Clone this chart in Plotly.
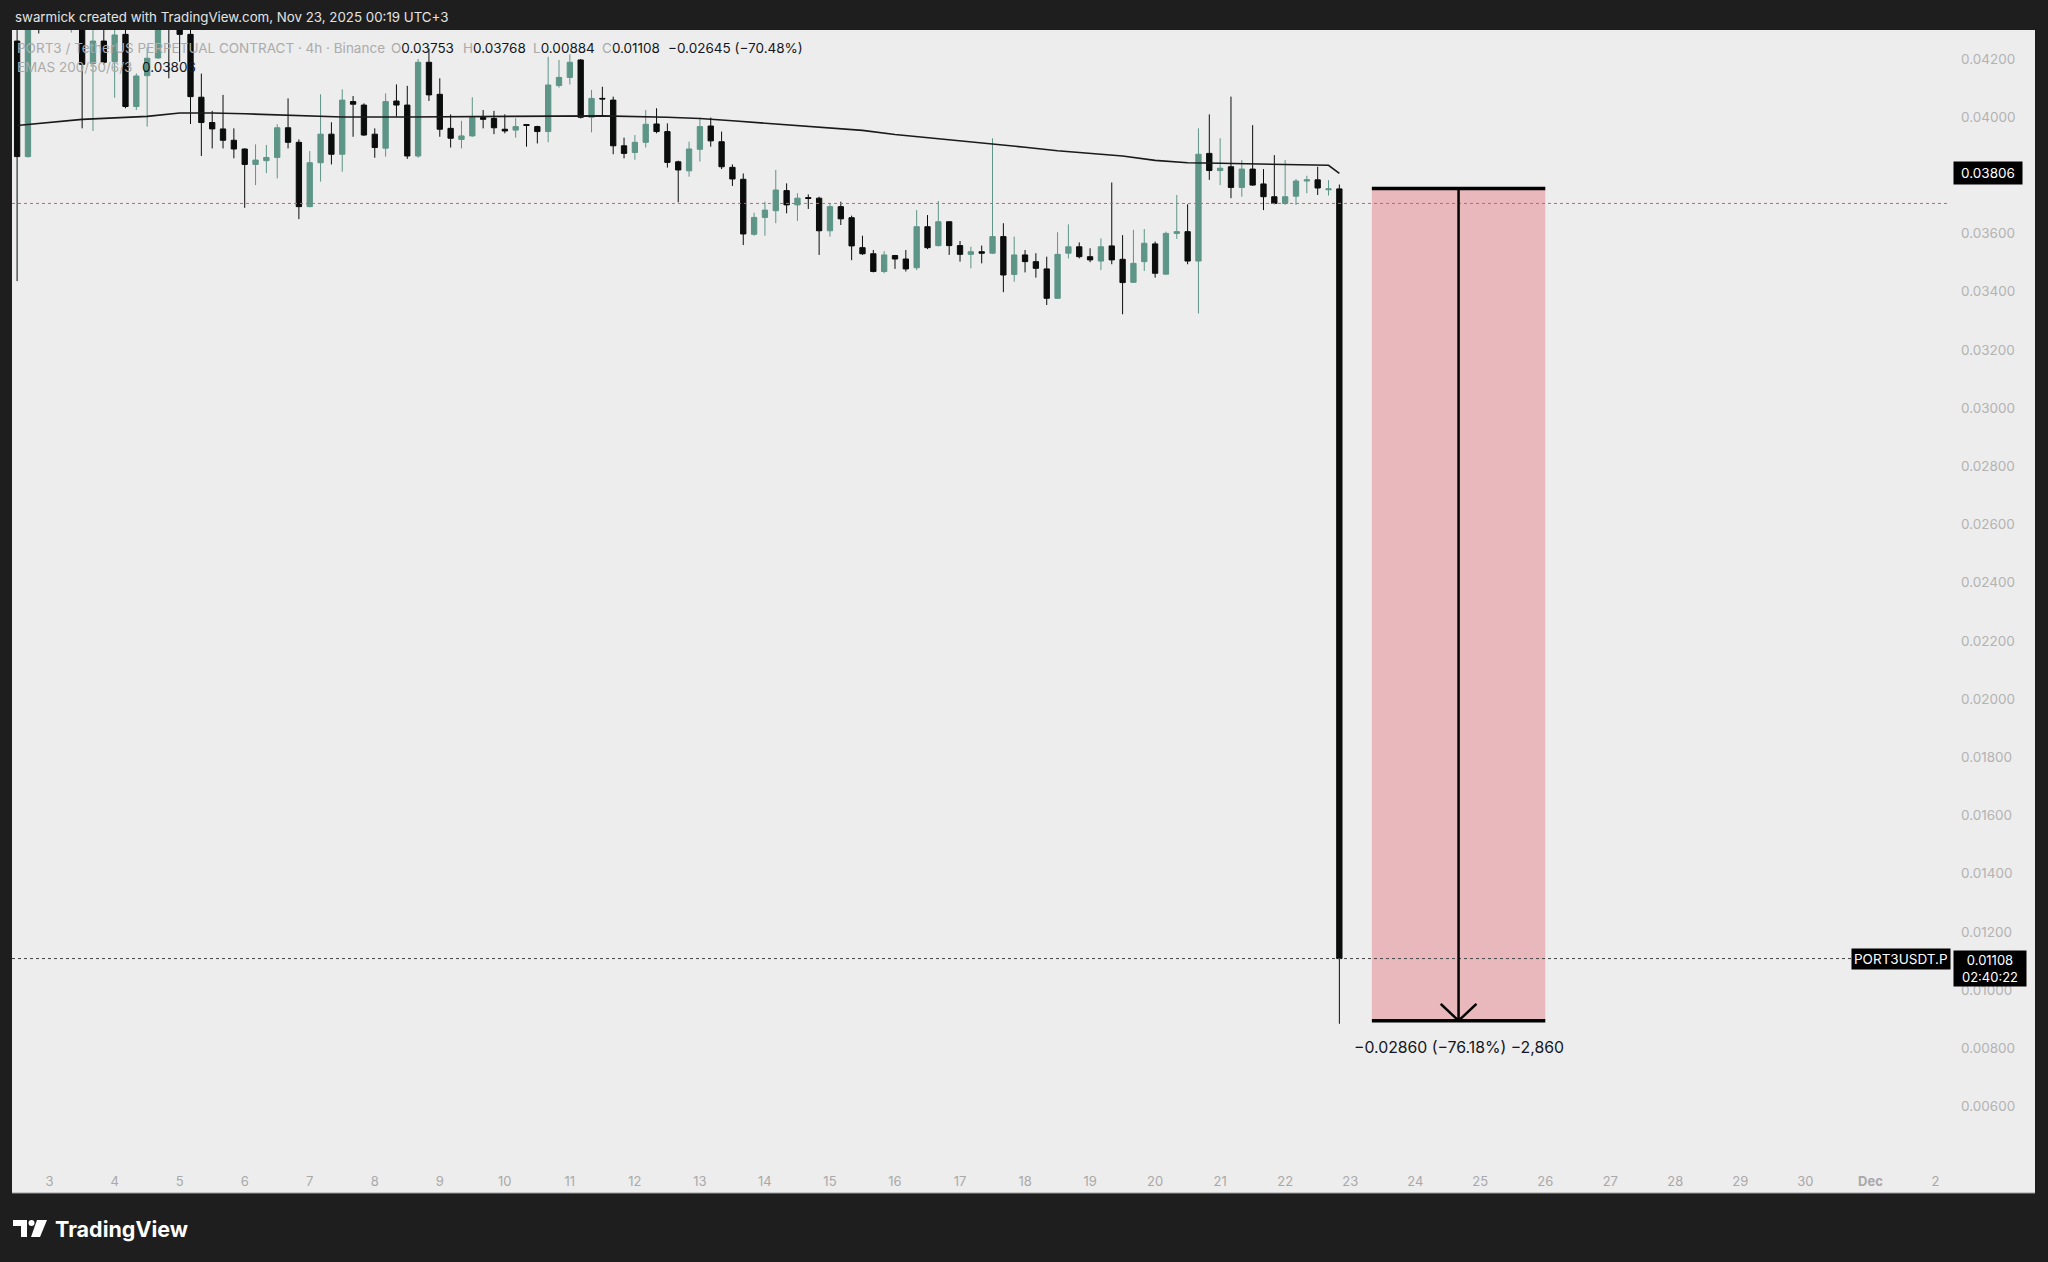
import pandas as pd
import plotly.graph_objects as go

W, H = 2048, 1262

# ---------------- data ----------------
bar_start = "2025-11-02 12:00"   # UTC, 4h bars
opens = [0.04261, 0.03864, 0.04520, 0.04470, 0.04550, 0.04490, 0.04520, 0.04184, 0.04261, 0.04190,
         0.04284, 0.04036, 0.04142, 0.04203, 0.04380, 0.04340, 0.04284, 0.04068, 0.03981, 0.03959,
         0.03920, 0.03890, 0.03837, 0.03850, 0.03861, 0.03963, 0.03913, 0.03692, 0.03843, 0.03941,
         0.03872, 0.04053, 0.04041, 0.03941, 0.03893, 0.04055, 0.04041, 0.03866, 0.04188, 0.04078,
         0.03961, 0.03923, 0.03935, 0.03998, 0.03995, 0.03958, 0.03955, 0.03974, 0.03967, 0.03950,
         0.04108, 0.04136, 0.04196, 0.03999, 0.04064, 0.04058, 0.03901, 0.03878, 0.03913, 0.03976,
         0.03950, 0.03846, 0.03815, 0.03889, 0.03969, 0.03915, 0.03827, 0.03786, 0.03597, 0.03655,
         0.03678, 0.03747, 0.03698, 0.03723, 0.03721, 0.03609, 0.03692, 0.03654, 0.03551, 0.03530,
         0.03469, 0.03524, 0.03512, 0.03482, 0.03623, 0.03558, 0.03640, 0.03558, 0.03528, 0.03537,
         0.03532, 0.03589, 0.03459, 0.03526, 0.03503, 0.03478, 0.03377, 0.03532, 0.03554, 0.03520,
         0.03505, 0.03557, 0.03511, 0.03432, 0.03503, 0.03564, 0.03460, 0.03600, 0.03606, 0.03505,
         0.03875, 0.03816, 0.03829, 0.03758, 0.03821, 0.03770, 0.03726, 0.03703, 0.03728, 0.03780,
         0.03784, 0.03750, 0.03753]
highs = [0.04360, 0.04500, 0.04600, 0.04620, 0.04580, 0.04560, 0.04550, 0.04400, 0.04360, 0.04330,
         0.04330, 0.04150, 0.04240, 0.04400, 0.04410, 0.04370, 0.04310, 0.04149, 0.04021, 0.04076,
         0.03961, 0.03892, 0.03906, 0.03904, 0.03975, 0.04064, 0.03923, 0.03883, 0.04078, 0.03982,
         0.04095, 0.04072, 0.04047, 0.03961, 0.04081, 0.04112, 0.04107, 0.04199, 0.04236, 0.04133,
         0.04009, 0.03987, 0.04068, 0.04024, 0.04021, 0.04009, 0.03996, 0.03976, 0.03970, 0.04207,
         0.04196, 0.04215, 0.04199, 0.04093, 0.04104, 0.04070, 0.03929, 0.03938, 0.04024, 0.04030,
         0.03978, 0.03850, 0.03915, 0.03998, 0.03998, 0.03950, 0.03837, 0.03806, 0.03671, 0.03709,
         0.03818, 0.03772, 0.03738, 0.03734, 0.03726, 0.03703, 0.03709, 0.03661, 0.03592, 0.03543,
         0.03539, 0.03526, 0.03543, 0.03680, 0.03663, 0.03711, 0.03642, 0.03574, 0.03554, 0.03558,
         0.03927, 0.03635, 0.03589, 0.03543, 0.03532, 0.03520, 0.03604, 0.03631, 0.03569, 0.03549,
         0.03583, 0.03775, 0.03594, 0.03612, 0.03615, 0.03572, 0.03606, 0.03732, 0.03700, 0.03961,
         0.04009, 0.03927, 0.04070, 0.03852, 0.03972, 0.03821, 0.03869, 0.03852, 0.03787, 0.03798,
         0.03829, 0.03783, 0.03768]
lows = [0.03436, 0.03860, 0.04287, 0.04410, 0.04360, 0.04290, 0.03961, 0.03952, 0.04180, 0.04066,
        0.04030, 0.04024, 0.03967, 0.04200, 0.04133, 0.04190, 0.03976, 0.03866, 0.03892, 0.03892,
        0.03858, 0.03688, 0.03766, 0.03807, 0.03789, 0.03892, 0.03649, 0.03690, 0.03778, 0.03837,
        0.03812, 0.03932, 0.03935, 0.03860, 0.03864, 0.04001, 0.03856, 0.03860, 0.04055, 0.03932,
        0.03895, 0.03892, 0.03932, 0.03961, 0.03941, 0.03944, 0.03929, 0.03898, 0.03909, 0.03913,
        0.04101, 0.04112, 0.03995, 0.03947, 0.04005, 0.03872, 0.03858, 0.03853, 0.03895, 0.03944,
        0.03826, 0.03707, 0.03795, 0.03847, 0.03898, 0.03821, 0.03763, 0.03560, 0.03592, 0.03592,
        0.03635, 0.03669, 0.03643, 0.03684, 0.03526, 0.03589, 0.03629, 0.03508, 0.03526, 0.03466,
        0.03463, 0.03478, 0.03469, 0.03474, 0.03546, 0.03555, 0.03526, 0.03503, 0.03480, 0.03497,
        0.03529, 0.03398, 0.03434, 0.03466, 0.03448, 0.03354, 0.03375, 0.03514, 0.03514, 0.03501,
        0.03474, 0.03494, 0.03322, 0.03430, 0.03471, 0.03448, 0.03459, 0.03581, 0.03494, 0.03325,
        0.03784, 0.03766, 0.03721, 0.03726, 0.03764, 0.03680, 0.03700, 0.03698, 0.03698, 0.03738,
        0.03732, 0.03730, 0.00884]
closes = [0.03864, 0.04450, 0.04470, 0.04550, 0.04490, 0.04520, 0.04181, 0.04261, 0.04188, 0.04282,
          0.04036, 0.04141, 0.04202, 0.04350, 0.04340, 0.04284, 0.04070, 0.03981, 0.03959, 0.03920,
          0.03890, 0.03837, 0.03852, 0.03861, 0.03963, 0.03913, 0.03692, 0.03843, 0.03941, 0.03872,
          0.04058, 0.04044, 0.03938, 0.03895, 0.04053, 0.04041, 0.03866, 0.04188, 0.04076, 0.03958,
          0.03927, 0.03935, 0.03998, 0.03992, 0.03963, 0.03952, 0.03967, 0.03971, 0.03950, 0.04110,
          0.04136, 0.04188, 0.03999, 0.04064, 0.04062, 0.03901, 0.03875, 0.03913, 0.03975, 0.03950,
          0.03844, 0.03818, 0.03890, 0.03967, 0.03918, 0.03829, 0.03787, 0.03598, 0.03655, 0.03680,
          0.03749, 0.03698, 0.03721, 0.03720, 0.03609, 0.03692, 0.03650, 0.03557, 0.03530, 0.03469,
          0.03526, 0.03512, 0.03478, 0.03623, 0.03551, 0.03640, 0.03558, 0.03528, 0.03537, 0.03532,
          0.03589, 0.03457, 0.03526, 0.03503, 0.03480, 0.03377, 0.03528, 0.03554, 0.03520, 0.03509,
          0.03554, 0.03509, 0.03431, 0.03497, 0.03566, 0.03463, 0.03600, 0.03606, 0.03505, 0.03872,
          0.03816, 0.03824, 0.03758, 0.03821, 0.03766, 0.03726, 0.03703, 0.03726, 0.03780, 0.03784,
          0.03756, 0.03753, 0.01108]

# EMA 200 read at selected bars (bar index, value)
ema_idx = [0, 3, 6, 9, 12, 15, 18, 21, 24, 27, 30, 36, 42, 48, 54, 60, 63, 66, 69, 72, 75, 78,
           81, 84, 87, 90, 93, 96, 99, 102, 105, 108, 111, 114, 117, 121, 122]
ema_val = [0.03971, 0.03981, 0.03992, 0.03997, 0.04002, 0.04014, 0.04014, 0.04011, 0.04007, 0.04002,
           0.04000, 0.04000, 0.04001, 0.04003, 0.04004, 0.03999, 0.03995, 0.03987, 0.03979, 0.03972,
           0.03964, 0.03954, 0.03940, 0.03929, 0.03919, 0.03909, 0.03896, 0.03884, 0.03875, 0.03866,
           0.03851, 0.03843, 0.03841, 0.03839, 0.03837, 0.03834, 0.03806]

y_ticks = [0.006, 0.008, 0.010, 0.012, 0.014, 0.016, 0.018, 0.020, 0.022, 0.024, 0.026, 0.028,
           0.030, 0.032, 0.034, 0.036, 0.038, 0.040, 0.042]
x_tick_dates = pd.date_range("2025-11-03", "2025-12-02", freq="D")
x_tick_text = ["3", "4", "5", "6", "7", "8", "9", "10", "11", "12", "13", "14", "15", "16", "17",
               "18", "19", "20", "21", "22", "23", "24", "25", "26", "27", "28", "29", "30",
               "<b>Dec</b>", "2"]

prev_line_price = 0.03703          # red dotted line
range_start, range_end = "2025-11-23 08:00", "2025-11-26 00:00"
range_mid = "2025-11-24 16:00"
range_hi, range_lo = 0.037545, 0.008945
tick_size = 0.00001
countdown = "02:40:22"
symbol = "PORT3USDT.P"

times = pd.date_range(bar_start, periods=len(opens), freq="4h")

# ---------------- helpers ----------------
def px(x):
    return x / W

def py(y):
    return 1 - y / H

FONT = "Inter, Roboto, Arial, sans-serif"
BG = "#ededed"
DARK = "#1e1e1e"
GREEN = "#5d9587"
BLACK = "#0b0d0d"
GREY_TXT = "#ababab"

fig = go.Figure()

fig.add_trace(go.Candlestick(
    x=times, open=opens, high=highs, low=lows, close=closes,
    increasing=dict(line=dict(color=GREEN, width=1), fillcolor=GREEN),
    decreasing=dict(line=dict(color=BLACK, width=1), fillcolor=BLACK),
    whiskerwidth=0, showlegend=False, hoverinfo="skip",
))

fig.add_trace(go.Scatter(
    x=[times[i] for i in ema_idx], y=ema_val, mode="lines",
    line=dict(color="#1a1a1a", width=1.6), showlegend=False, hoverinfo="skip",
))

shapes = []
# chart pane background
shapes.append(dict(type="rect", xref="paper", yref="paper", x0=px(12), x1=px(2035),
                   y0=py(1193), y1=py(30), fillcolor=BG, line=dict(width=0), layer="below"))
shapes.append(dict(type="line", xref="paper", yref="paper", x0=px(12), x1=px(2035),
                   y0=py(1193), y1=py(1193), line=dict(color="#9a9a9a", width=1)))
# red dotted line
shapes.append(dict(type="line", xref="paper", yref="y", x0=px(12), x1=px(1949),
                   y0=prev_line_price, y1=prev_line_price,
                   line=dict(color="#e0566a", width=1, dash="dot")))
# last price dotted line
last_close = closes[-1]
shapes.append(dict(type="line", xref="paper", yref="y", x0=px(12), x1=px(1852),
                   y0=last_close, y1=last_close,
                   line=dict(color="#444444", width=1, dash="dot")))
# date & price range box
shapes.append(dict(type="rect", xref="x", yref="y", x0=range_start, x1=range_end,
                   y0=range_lo, y1=range_hi, fillcolor="#e8b8bd", line=dict(width=0),
                   layer="below"))
for yy in (range_hi, range_lo):
    shapes.append(dict(type="line", xref="x", yref="y", x0=range_start, x1=range_end,
                       y0=yy, y1=yy, line=dict(color="#000000", width=3.5)))
shapes.append(dict(type="line", xref="x", yref="y", x0=range_mid, x1=range_mid,
                   y0=range_hi, y1=range_lo, line=dict(color="#000000", width=2.5)))
mid_t = pd.Timestamp(range_mid)
arm_t = pd.Timedelta(hours=6.6)
arm_p = 0.00058
for side in (-1, 1):
    shapes.append(dict(type="line", xref="x", yref="y",
                       x0=mid_t + side * arm_t, x1=mid_t,
                       y0=range_lo + arm_p, y1=range_lo,
                       line=dict(color="#000000", width=2.5)))

# TradingView logo (bottom-left)
shapes.append(dict(type="rect", xref="paper", yref="paper", x0=px(13), x1=px(27),
                   y0=py(1226), y1=py(1220), fillcolor="#ffffff", line=dict(width=0)))
shapes.append(dict(type="rect", xref="paper", yref="paper", x0=px(21), x1=px(27),
                   y0=py(1237), y1=py(1220), fillcolor="#ffffff", line=dict(width=0)))
shapes.append(dict(type="circle", xref="paper", yref="paper", x0=px(28.5), x1=px(34.5),
                   y0=py(1226), y1=py(1220), fillcolor="#ffffff", line=dict(width=0)))
shapes.append(dict(type="path", xref="paper", yref="paper",
                   path=f"M {px(37)} {py(1220)} L {px(47)} {py(1220)} L {px(40)} {py(1237)} L {px(31)} {py(1237)} Z",
                   fillcolor="#ffffff", line=dict(width=0)))

ann = []
ann.append(dict(text="swarmick created with TradingView.com, Nov 23, 2025 00:19 UTC+3",
                xref="paper", yref="paper", x=px(13), y=py(17), xanchor="left", yanchor="middle",
                showarrow=False, font=dict(family=FONT, size=13.3, color="#e4e4e4")))
ann.append(dict(text="<b>TradingView</b>", xref="paper", yref="paper", x=px(53), y=py(1229),
                xanchor="left", yanchor="middle", showarrow=False,
                font=dict(family=FONT, size=21.5, color="#ffffff")))

# legend lines
ann.append(dict(text="PORT3 / TetherUS PERPETUAL CONTRACT · 4h · Binance", xref="paper", yref="paper",
                x=px(15), y=py(48), xanchor="left", yanchor="middle", showarrow=False,
                font=dict(family=FONT, size=13.5, color=GREY_TXT)))
o, h, l, c = opens[-1], highs[-1], lows[-1], closes[-1]
chg = c - o
for lab, val, xx in (("O", o, 389), ("H", h, 461), ("L", l, 531), ("C", c, 600)):
    ann.append(dict(text=f'<span style="color:{GREY_TXT}">{lab}</span>{val:.5f}',
                    xref="paper", yref="paper", x=px(xx), y=py(48), xanchor="left",
                    yanchor="middle", showarrow=False,
                    font=dict(family=FONT, size=13.5, color="#131722")))
ann.append(dict(text=f"\u2212{abs(chg):.5f} (\u2212{abs(chg) / o * 100:.2f}%)",
                xref="paper", yref="paper", x=px(666), y=py(48), xanchor="left",
                yanchor="middle", showarrow=False,
                font=dict(family=FONT, size=13.5, color="#131722")))
ann.append(dict(text="EMAS 200/50/6/3", xref="paper", yref="paper", x=px(15), y=py(67),
                xanchor="left", yanchor="middle", showarrow=False,
                font=dict(family=FONT, size=13.5, color=GREY_TXT)))
ann.append(dict(text=f"{ema_val[-1]:.5f}", xref="paper", yref="paper", x=px(140), y=py(67),
                xanchor="left", yanchor="middle", showarrow=False,
                font=dict(family=FONT, size=13.5, color="#131722")))

# price-scale labels
ann.append(dict(text=f"{ema_val[-1]:.5f}", xref="paper", yref="y", x=px(1953), y=ema_val[-1],
                xanchor="left", yanchor="middle", showarrow=False, bgcolor="#000000",
                borderpad=3, width=62, align="center",
                font=dict(family=FONT, size=13.5, color="#ffffff")))
ann.append(dict(text=f"{last_close:.5f}<br>{countdown}", xref="paper", yref="y", x=px(1953),
                y=last_close, xanchor="left", yanchor="top", yshift=9, showarrow=False,
                bgcolor="#000000", borderpad=1, width=70, align="center",
                font=dict(family=FONT, size=13, color="#ffffff")))
ann.append(dict(text=symbol, xref="paper", yref="y", x=px(1951), y=last_close,
                xanchor="right", yanchor="middle", showarrow=False, bgcolor="#000000",
                borderpad=2, font=dict(family=FONT, size=13.5, color="#ffffff")))

# range measurement label
diff = range_lo - range_hi
ann.append(dict(text=f"\u2212{abs(diff):.5f} (\u2212{abs(diff) / range_hi * 100:.2f}%) \u2212{abs(diff) / tick_size:,.0f}",
                xref="x", yref="y", x=range_mid, y=range_lo, xanchor="center", yanchor="top",
                yshift=-15, showarrow=False,
                font=dict(family=FONT, size=15.8, color="#131722")))

y_top = 0.042 + (58.8 - 30) / 29100
y_bot = 0.042 - (1193 - 58.8) / 29100

fig.update_layout(
    width=W, height=H, margin=dict(l=0, r=0, t=0, b=0),
    paper_bgcolor=DARK, plot_bgcolor=BG,
    shapes=shapes, annotations=ann, showlegend=False, hovermode=False,
    xaxis=dict(type="date", domain=[px(12), px(1949)],
               range=["2025-11-02 10:07", "2025-12-02 05:00"],
               rangeslider=dict(visible=False), showgrid=False, zeroline=False,
               showline=False, ticks="", tickvals=list(x_tick_dates), ticktext=x_tick_text,
               anchor="free", position=py(1172),
               tickfont=dict(family=FONT, size=13, color="#a9a9a9")),
    yaxis=dict(domain=[py(1193), py(30)], range=[y_bot, y_top], side="right", anchor="x",
               showgrid=False, zeroline=False, showline=False, ticks="",
               tickvals=y_ticks, tickformat=".5f", ticklabelstandoff=11,
               tickfont=dict(family=FONT, size=13.5, color="#b3b3b3")),
)

fig.write_html("out.html", config={"displayModeBar": False},
               post_script="document.body.style.margin='0';document.body.style.overflow='hidden';")
